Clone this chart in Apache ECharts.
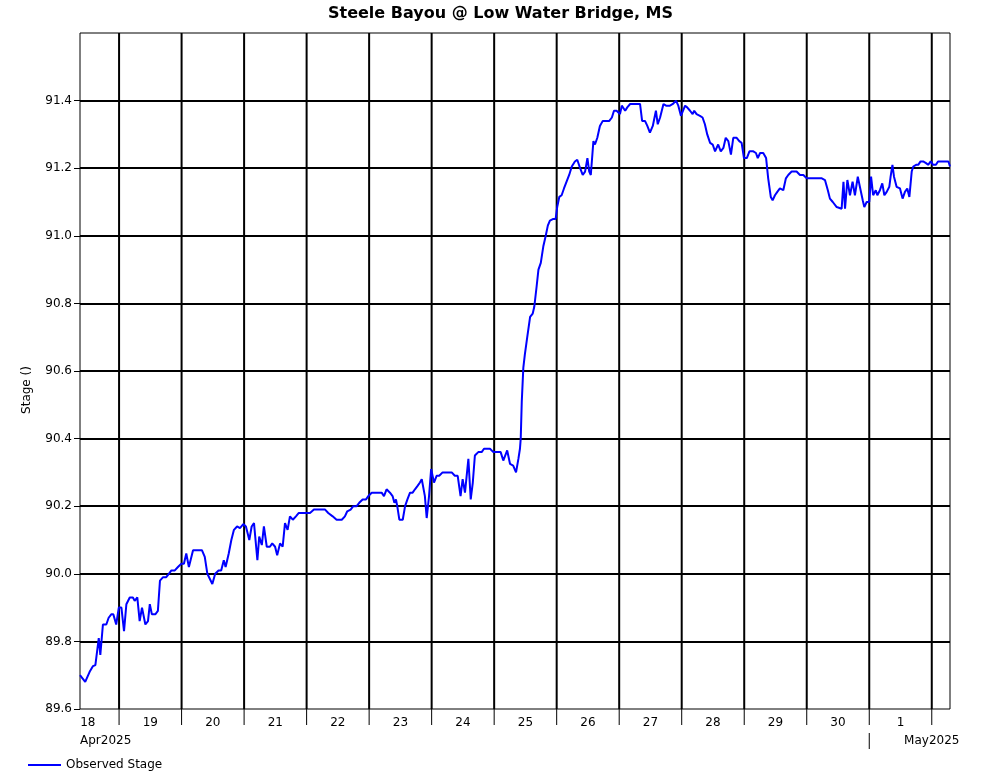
<!DOCTYPE html>
<html><head><meta charset="utf-8">
<script src="https://cdn.jsdelivr.net/npm/echarts@6/dist/echarts.min.js"></script>
<style>html,body{margin:0;padding:0;background:#fff}#c{width:1001px;height:780px}</style>
</head><body><div id="c"></div>
<script>
const chartTitle = 'Steele Bayou @ Low Water Bridge, MS';
const seriesName = 'Observed Stage';
const yAxisName = 'Stage ()';
// hours since 2025-04-18 00:00 (local)
const hours = [
 9, 11, 12.7, 14, 14.9, 16.2, 16.8, 17.8, 19.1, 20,
 21, 21.8, 22.9, 23.9, 24.9, 25.9, 26.8, 28.1, 29.3, 30,
 31, 31.9, 32.8, 34.1, 35.1, 35.8, 36.6, 37.9, 38.9, 39.7,
 40.9, 42.1, 43.1, 44.1, 45.4, 46.6, 47.9, 48.9, 49.8, 50.8,
 52.4, 53.6, 55.8, 56.9, 57.9, 59.8, 60.9, 62.2, 63.2, 64.2,
 64.9, 66.1, 67.1, 68.1, 69.3, 70.4, 71.7, 72.7, 74, 74.9,
 75.8, 77.1, 77.8, 78.8, 79.6, 80.7, 81.9, 82.8, 83.9, 84.7,
 85.8, 86.8, 87.7, 88.7, 89.6, 90.7, 91.9, 93, 94.7, 97.3,
 98.8, 101.1, 103.1, 104.3, 106, 107.5, 109.5, 110.7, 111.6, 112.9,
 113.9, 115.2, 116.2, 117.5, 118.8, 119.7, 121, 122.9, 124.8, 125.7,
 126.7, 128, 129, 129.7, 130.3, 130.8, 131.6, 132.9, 133.8, 134.7,
 135.7, 136.7, 137.6, 138.6, 139.5, 140.2, 140.8, 141.4, 142.1, 143,
 143.8, 144.9, 145.9, 146.9, 148.2, 149.7, 151.7, 152.9, 154, 155.1,
 155.9, 156.8, 158.1, 159, 159.8, 160.6, 161.9, 163.2, 164.1, 166.4,
 167.7, 169, 170.5, 171.5, 172.2, 173, 174.1, 175.3, 176.4, 177.3,
 177.9, 178.2, 178.6, 179.2, 179.8, 180.7, 181.8, 182.8, 183.4, 184.3,
 185, 185.9, 186.9, 187.8, 188.6, 189.4, 190.7, 191.6, 192.2, 193,
 193.9, 194.8, 195.8, 196.8, 197.8, 199, 199.9, 201, 202, 202.9,
 203.8, 204.5, 205.1, 206.1, 206.7, 207.6, 208.6, 209.7, 210.9, 212.2,
 213.2, 214, 215, 215.7, 216.3, 217, 217.6, 218.3, 219.1, 220.2,
 220.8, 221.7, 224, 224.8, 225.9, 226.8, 227.8, 228.9, 230.1, 230.8,
 231.7, 233, 234, 235.5, 236.6, 237.8, 238.7, 239.7, 241.3, 242.1,
 243.2, 244.2, 244.8, 245.7, 247, 248, 248.9, 249.8, 250.9, 251.9,
 252.8, 253.4, 254, 255, 256, 256.9, 257.9, 258.9, 259.8, 261.1,
 262.1, 263, 263.9, 265, 266, 267.5, 268.5, 269.2, 270.1, 271.3,
 272.4, 273.2, 274.2, 274.9, 275.8, 276.7, 277.7, 279, 280, 280.9,
 282.2, 284.1, 285.4, 286.7, 288, 289.9, 293.8, 295, 296.1, 296.9,
 298, 299.5, 301.4, 302.1, 302.7, 303.6, 304.6, 305.6, 306.5, 307.6,
 308.4, 309.5, 310.1, 311, 312, 312.7, 313.5, 314.5, 315.1, 316.1,
 317, 317.8, 318.7, 319.7, 320.2, 320.9, 321.5, 322.5, 323.8, 324.8,
 325.7, 326.6, 327.4, 328.3, 328.9, 330, 330.8, 331.7, 332.7, 333.8,
 334.6, 335.6, 336.5, 337.6, 338.4, 342.4, 343
];
const stage = [
 89.70, 89.68, 89.71, 89.727, 89.73, 89.81, 89.76, 89.85, 89.85, 89.87,
 89.88, 89.88, 89.85, 89.90, 89.90, 89.83, 89.91, 89.93, 89.93, 89.92,
 89.93, 89.86, 89.90, 89.85, 89.86, 89.91, 89.88, 89.88, 89.89, 89.98,
 89.99, 89.99, 90.00, 90.01, 90.01, 90.02, 90.03, 90.03, 90.06, 90.02,
 90.07, 90.07, 90.07, 90.05, 90.00, 89.97, 90.00, 90.01, 90.01, 90.04,
 90.02, 90.06, 90.10, 90.13, 90.14, 90.135, 90.147, 90.14, 90.10, 90.14,
 90.15, 90.04, 90.11, 90.085, 90.14, 90.08, 90.08, 90.09, 90.08, 90.055,
 90.09, 90.08, 90.15, 90.13, 90.17, 90.16, 90.17, 90.18, 90.18, 90.18,
 90.19, 90.19, 90.19, 90.18, 90.17, 90.16, 90.16, 90.17, 90.185, 90.19,
 90.20, 90.20, 90.21, 90.22, 90.22, 90.23, 90.24, 90.24, 90.24, 90.23,
 90.25, 90.24, 90.23, 90.21, 90.22, 90.20, 90.16, 90.16, 90.20, 90.22,
 90.24, 90.24, 90.25, 90.26, 90.27, 90.28, 90.28, 90.23, 90.165, 90.23,
 90.31, 90.27, 90.29, 90.29, 90.30, 90.30, 90.30, 90.29, 90.29, 90.23,
 90.28, 90.24, 90.34, 90.22, 90.27, 90.35, 90.36, 90.36, 90.37, 90.37,
 90.36, 90.36, 90.36, 90.335, 90.33, 90.365, 90.325, 90.32, 90.30, 90.34,
 90.37, 90.40, 90.51, 90.61, 90.65, 90.70, 90.76, 90.77, 90.79, 90.85,
 90.90, 90.92, 90.97, 91.00, 91.03, 91.045, 91.05, 91.05, 91.085, 91.115,
 91.12, 91.14, 91.16, 91.18, 91.205, 91.22, 91.225, 91.20, 91.18, 91.19,
 91.23, 91.19, 91.18, 91.28, 91.27, 91.29, 91.325, 91.34, 91.34, 91.34,
 91.35, 91.37, 91.37, 91.37, 91.36, 91.385, 91.38, 91.37, 91.38, 91.39,
 91.385, 91.39, 91.39, 91.34, 91.34, 91.325, 91.305, 91.325, 91.37, 91.33,
 91.35, 91.39, 91.385, 91.385, 91.39, 91.40, 91.385, 91.355, 91.385, 91.38,
 91.37, 91.36, 91.37, 91.36, 91.355, 91.35, 91.33, 91.30, 91.275, 91.27,
 91.25, 91.26, 91.27, 91.25, 91.26, 91.29, 91.28, 91.24, 91.29, 91.29,
 91.28, 91.275, 91.23, 91.23, 91.25, 91.25, 91.245, 91.23, 91.245, 91.245,
 91.23, 91.17, 91.115, 91.105, 91.12, 91.13, 91.14, 91.135, 91.17, 91.18,
 91.19, 91.19, 91.18, 91.18, 91.17, 91.17, 91.17, 91.165, 91.135, 91.11,
 91.10, 91.085, 91.08, 91.16, 91.08, 91.165, 91.12, 91.16, 91.12, 91.175,
 91.145, 91.105, 91.085, 91.10, 91.10, 91.175, 91.12, 91.135, 91.12, 91.135,
 91.155, 91.12, 91.13, 91.145, 91.175, 91.21, 91.175, 91.145, 91.14, 91.11,
 91.13, 91.14, 91.115, 91.19, 91.205, 91.21, 91.21, 91.22, 91.22, 91.215,
 91.21, 91.22, 91.21, 91.21, 91.22, 91.22, 91.205
];
// day boundaries (midnights) and day labels (placed at noon), hours since 2025-04-18 00:00
const midnightHours = [24, 48, 72, 96, 120, 144, 168, 192, 216, 240, 264, 288, 312, 336];
const dayLabelHours = [12, 36, 60, 84, 108, 132, 156, 180, 204, 228, 252, 276, 300, 324];
const dayLabels = ['18','19','20','21','22','23','24','25','26','27','28','29','30','1'];
const monthLabels = ['Apr2025', 'May2025'];
const monthLabelHours = [9, 336];
const monthBreakHours = [312];
const yTickLabels = ['89.6','89.8','90.0','90.2','90.4','90.6','90.8','91.0','91.2','91.4'];

const X_MIN = 9, X_MAX = 343;
const Y_MIN = 89.6, Y_MAX = 91.6, Y_STEP = 0.2;
const FONT = '"DejaVu Sans", sans-serif';

const chart = echarts.init(document.getElementById('c'));

function renderDayGrid(params, api) {
  const b = api.coord([api.value(0), Y_MIN]);
  const t = api.coord([api.value(0), Y_MAX]);
  return { type: 'group', children: [
    { type: 'line', shape: { x1: b[0], y1: t[1], x2: b[0], y2: b[1] }, style: { stroke: '#000', lineWidth: 2 } },
    { type: 'line', shape: { x1: b[0], y1: b[1], x2: b[0], y2: b[1] + 16 }, style: { stroke: '#000', lineWidth: 1 } }
  ]};
}
function renderDayLabel(params, api) {
  const p = api.coord([api.value(0), Y_MIN]);
  return { type: 'text', x: p[0], y: p[1] + 14,
    style: { text: dayLabels[params.dataIndex], fill: '#000', font: '12px ' + FONT, align: 'center', verticalAlign: 'middle' } };
}
function renderMonthLabel(params, api) {
  const p = api.coord([api.value(0), Y_MIN]);
  return { type: 'text', x: p[0], y: p[1] + 32,
    style: { text: monthLabels[params.dataIndex], fill: '#000', font: '12px ' + FONT,
      align: params.dataIndex === 0 ? 'left' : 'center', verticalAlign: 'middle' } };
}
function renderMonthBreak(params, api) {
  const p = api.coord([api.value(0), Y_MIN]);
  return { type: 'line', shape: { x1: p[0], y1: p[1] + 24, x2: p[0], y2: p[1] + 40 }, style: { stroke: '#000', lineWidth: 1 } };
}

const option = {
  animation: false,
  backgroundColor: '#fff',
  title: { text: chartTitle, left: 'center', top: 1,
    textStyle: { fontFamily: FONT, fontWeight: 'bold', fontSize: 16, color: '#000' } },
  legend: { data: [seriesName], left: 23, top: 754, icon: 'rect', itemWidth: 33, itemHeight: 2, selectedMode: false,
    textStyle: { fontFamily: FONT, fontSize: 12, color: '#000' } },
  graphic: [{ type: 'text', x: 27, y: 390, rotation: Math.PI / 2,
    style: { text: yAxisName, fill: '#000', font: '12px ' + FONT, align: 'center', verticalAlign: 'middle' } }],
  grid: { left: 80, right: 51, top: 33, bottom: 71, show: true, borderColor: '#000', borderWidth: 1, backgroundColor: 'transparent' },
  xAxis: { type: 'value', min: X_MIN, max: X_MAX,
    axisLine: { show: false }, axisTick: { show: false }, axisLabel: { show: false }, splitLine: { show: false } },
  yAxis: { type: 'value', min: Y_MIN, max: Y_MAX, interval: Y_STEP,
    axisLine: { show: false },
    axisTick: { show: true, length: 6, lineStyle: { color: '#000', width: 1 } },
    axisLabel: { showMaxLabel: false, margin: 8, color: '#000', fontFamily: FONT, fontSize: 12,
      formatter: function (v) { const s = v.toFixed(1); return yTickLabels.indexOf(s) >= 0 ? s : ''; } },
    splitLine: { show: true, showMinLine: false, showMaxLine: false, lineStyle: { color: '#000', width: 2 } } },
  series: [
    { type: 'custom', name: 'dayGrid', silent: true, clip: false, z: 1, renderItem: renderDayGrid,
      data: midnightHours.map(h => [h, Y_MIN]) },
    { type: 'custom', name: 'dayLabels', silent: true, clip: false, z: 1, renderItem: renderDayLabel,
      data: dayLabelHours.map(h => [h, Y_MIN]) },
    { type: 'custom', name: 'monthLabels', silent: true, clip: false, z: 1, renderItem: renderMonthLabel,
      data: monthLabelHours.map(h => [h, Y_MIN]) },
    { type: 'custom', name: 'monthBreak', silent: true, clip: false, z: 1, renderItem: renderMonthBreak,
      data: monthBreakHours.map(h => [h, Y_MIN]) },
    { type: 'line', name: seriesName, z: 5, symbol: 'none', showSymbol: false,
      lineStyle: { color: '#0000ff', width: 2 }, itemStyle: { color: '#0000ff' },
      data: hours.map((h, i) => [h, stage[i]]) }
  ]
};
chart.setOption(option);
</script>
</body></html>
